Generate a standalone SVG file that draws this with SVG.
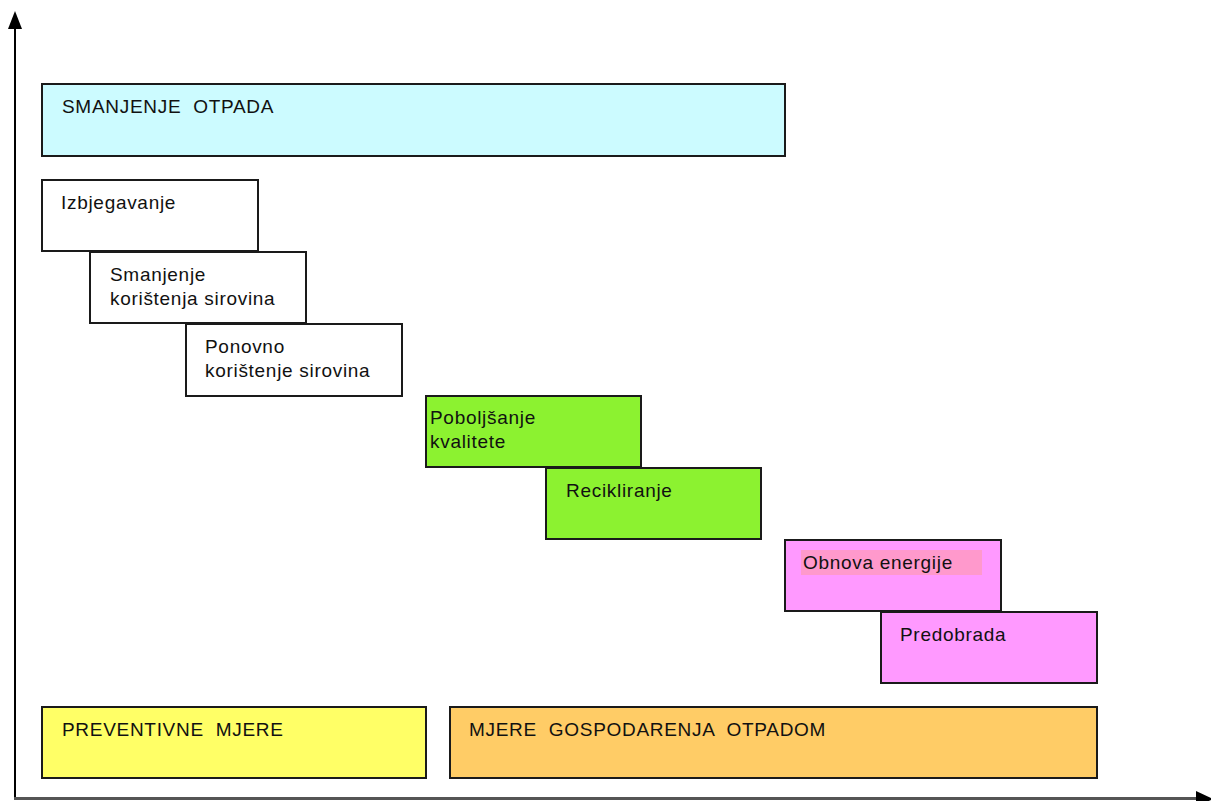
<svg xmlns="http://www.w3.org/2000/svg" width="1211" height="801" viewBox="0 0 1211 801">
<defs>
<style>
.box{stroke:#1a1a1a;stroke-width:2}
.t{font-family:"Liberation Sans",Arial,sans-serif;font-size:19px;letter-spacing:0.7px;fill:#111;white-space:pre}
</style>
</defs>
<rect width="1211" height="801" fill="#fff"/>
<g id="connectors">
<line x1="15" y1="800" x2="15" y2="24" stroke="#000" stroke-width="2"/>
<path d="M15,11 L8,29 L22,29 z" fill="#000"/>
<line x1="14" y1="798.5" x2="1200" y2="798.5" stroke="#555" stroke-width="3"/>
<path d="M1213,799 L1196,791 L1196,807 z" fill="#000"/>
</g>
<g id="smanjenje-otpada">
<rect class="box" x="42" y="84" width="743" height="72" fill="#ccfbff"/>
<text class="t" x="62" y="113" xml:space="preserve">SMANJENJE  OTPADA</text>
</g>
<g id="izbjegavanje">
<rect class="box" x="42" y="180" width="216" height="71" fill="#fff"/>
<text class="t" x="61" y="209">Izbjegavanje</text>
</g>
<g id="smanjenje-koristenja">
<rect class="box" x="90" y="252" width="216" height="71" fill="#fff"/>
<text class="t" x="110" y="281">Smanjenje</text>
<text class="t" x="110" y="305">korištenja sirovina</text>
</g>
<g id="ponovno-koristenje">
<rect class="box" x="186" y="324" width="216" height="72" fill="#fff"/>
<text class="t" x="205" y="353">Ponovno</text>
<text class="t" x="205" y="377">korištenje sirovina</text>
</g>
<g id="poboljsanje">
<rect class="box" x="426" y="396" width="215" height="71" fill="#8cf230"/>
<text class="t" x="430" y="424">Poboljšanje</text>
<text class="t" x="430" y="448">kvalitete</text>
</g>
<g id="recikliranje">
<rect class="box" x="546" y="468" width="215" height="71" fill="#8cf230"/>
<text class="t" x="566" y="497">Recikliranje</text>
</g>
<g id="obnova-energije">
<rect class="box" x="785" y="540" width="216" height="71" fill="#ff99ff"/>
<rect x="801" y="550" width="181" height="25" fill="#ff99cc"/>
<text class="t" x="803" y="569">Obnova energije</text>
</g>
<g id="predobrada">
<rect class="box" x="881" y="612" width="216" height="71" fill="#ff99ff"/>
<text class="t" x="900" y="641">Predobrada</text>
</g>
<g id="preventivne-mjere">
<rect class="box" x="42" y="707" width="384" height="71" fill="#ffff66"/>
<text class="t" x="62" y="736" xml:space="preserve">PREVENTIVNE  MJERE</text>
</g>
<g id="mjere-gospodarenja">
<rect class="box" x="450" y="707" width="647" height="71" fill="#ffcc66"/>
<text class="t" x="469" y="736" xml:space="preserve">MJERE  GOSPODARENJA  OTPADOM</text>
</g>
</svg>
